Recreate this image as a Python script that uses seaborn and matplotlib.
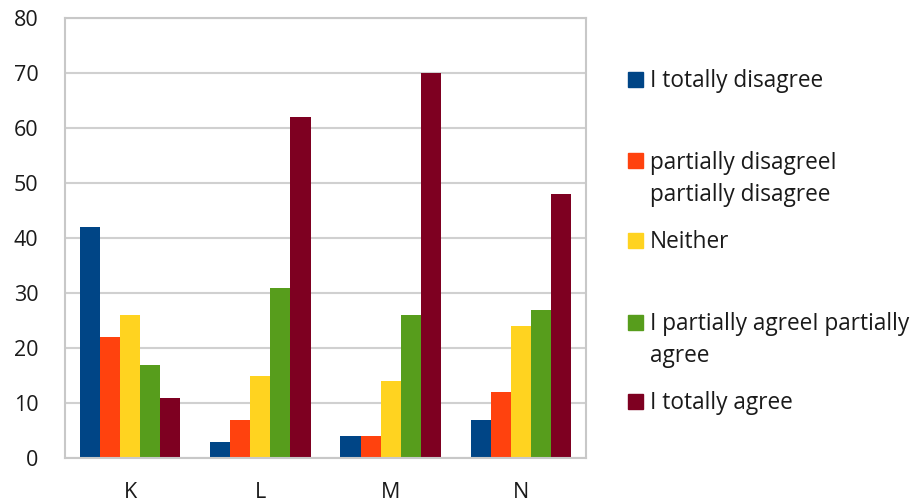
import matplotlib
matplotlib.use("Agg")
import matplotlib.pyplot as plt
from matplotlib.patches import Rectangle
import seaborn as sns
import pandas as pd

# Survey answers per statement
categories = ["K", "L", "M", "N"]
series_names = [
    "I totally disagree",
    "partially disagreeI\npartially disagree",
    "Neither",
    "I partially agreeI partially\nagree",
    "I totally agree",
]
totally_disagree = [42, 3, 4, 7]
partially_disagree = [22, 7, 4, 12]
neither = [26, 15, 14, 24]
partially_agree = [17, 31, 26, 27]
totally_agree = [11, 62, 70, 48]
y_ticks = [0, 10, 20, 30, 40, 50, 60, 70, 80]

colors = ["#004586", "#FF420E", "#FFD320", "#579D1C", "#7E0021"]

all_series = [totally_disagree, partially_disagree, neither, partially_agree, totally_agree]
rows = []
for name, vals in zip(series_names, all_series):
    for cat, v in zip(categories, vals):
        rows.append({"category": cat, "answer": name, "value": v})
df = pd.DataFrame(rows)

sns.set_style("white")
plt.rcParams["font.family"] = ["Open Sans", "DejaVu Sans"]

W, H = 920, 504
fig = plt.figure(figsize=(W / 100, H / 100), dpi=100)
ax = fig.add_axes([65 / W, 1 - 458 / H, (586 - 65) / W, (458 - 18) / H])

sns.barplot(data=df, x="category", y="value", hue="answer",
            hue_order=series_names, order=categories, palette=colors,
            width=0.77, linewidth=0, saturation=1, ax=ax, legend=False)

ax.set_ylim(0, 80)
ax.set_yticks(y_ticks)
ax.set_xlim(-0.5, len(categories) - 0.5)
ax.set_xlabel("")
ax.set_ylabel("")
ax.yaxis.grid(True, color="#d0d0d0", linewidth=1.5)
ax.set_axisbelow(True)
for s in ax.spines.values():
    s.set_visible(True)
    s.set_color("#c8c8c8")
    s.set_linewidth(1.5)
ax.tick_params(axis="y", length=0, pad=19, labelsize=15.5, labelcolor="#1a1a1a")
ax.tick_params(axis="x", length=0, pad=17, labelsize=15.5, labelcolor="#1a1a1a")

# Legend entries on the right
entry_y = [79, 161, 240, 322, 401]
for name, col, yc in zip(series_names, colors, entry_y):
    sq = 15
    fig.patches.append(Rectangle((628 / W, 1 - (yc + sq / 2) / H), sq / W, sq / H,
                                 transform=fig.transFigure, color=col, figure=fig))
    fig.text(650 / W, 1 - (yc - 10) / H, name, fontsize=16.3, color="#1a1a1a",
             va="top", ha="left", linespacing=1.45)

fig.savefig("out.png", dpi=100, facecolor="white")
